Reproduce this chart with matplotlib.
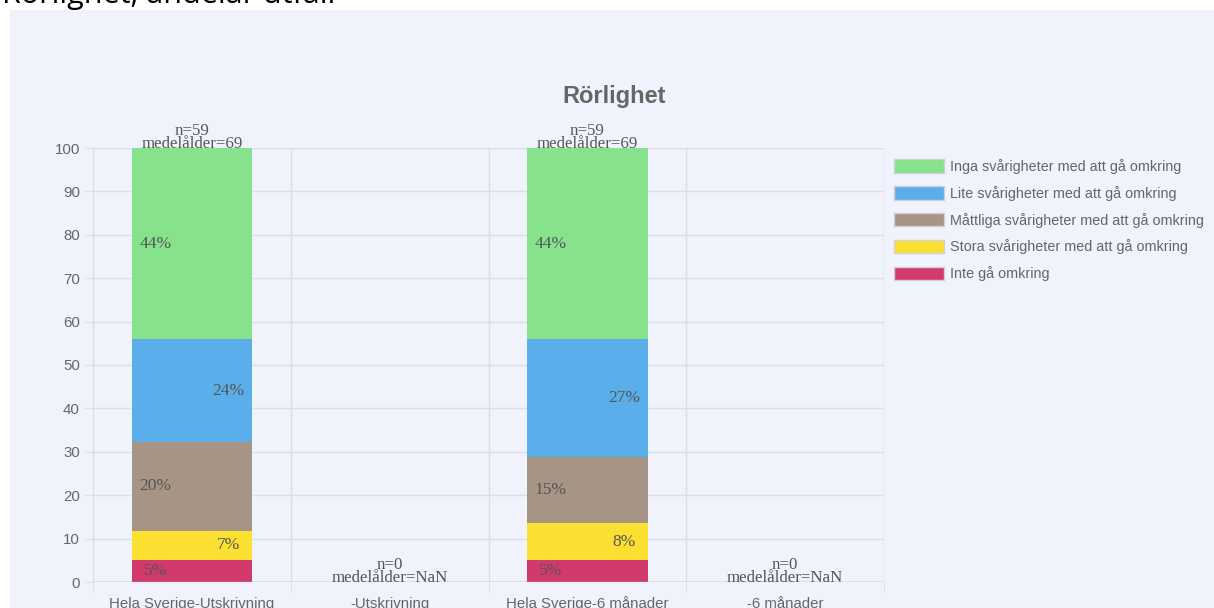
import matplotlib
matplotlib.use("Agg")
import matplotlib.pyplot as plt
from matplotlib.patches import Patch, Rectangle
import numpy as np

# ---------------- data ----------------
categories = ["Hela Sverige-Utskrivning", "-Utskrivning", "Hela Sverige-6 månader", "-6 månader"]
series_names = [
    "Inte gå omkring",
    "Stora svårigheter med att gå omkring",
    "Måttliga svårigheter med att gå omkring",
    "Lite svårigheter med att gå omkring",
    "Inga svårigheter med att gå omkring",
]
inte = [5.08, 0, 5.08, 0]
stora = [6.78, 0, 8.47, 0]
mattliga = [20.34, 0, 15.25, 0]
lite = [23.73, 0, 27.12, 0]
inga = [44.07, 0, 44.07, 0]
n_values = [59, 0, 59, 0]
mean_age = ["69", "NaN", "69", "NaN"]
series_colors = ["#d33a6c", "#fbe032", "#a69585", "#5aaeea", "#86e38c"]
y_ticks = [0, 10, 20, 30, 40, 50, 60, 70, 80, 90, 100]

series_values = [inte, stora, mattliga, lite, inga]

# ---------------- figure ----------------
W, H = 1214, 608
fig = plt.figure(figsize=(W / 100, H / 100), dpi=100)
fig.patch.set_facecolor("white")
bg = "#f0f3fc"
fig.patches.append(Rectangle((10 / W, 0), 1 - 10 / W, (H - 10) / H,
                             transform=fig.transFigure, facecolor=bg,
                             edgecolor="none", zorder=-5))

# cut-off page heading at the top
fig.text(2 / W, 1 - 3 / H, "Rörlighet, andelar utfall", fontsize=22,
         family="Open Sans", color="black", ha="left", va="baseline", zorder=-4)

left, right = 93 / W, 884 / W
bottom, top = (H - 582) / H, (H - 148) / H
ax = fig.add_axes([left, bottom, right - left, top - bottom])
ax.set_facecolor("none")
ax.set_zorder(2)

x = np.arange(len(categories))
bar_w = 0.61
grid_c = "#dcdde6"
text_c = "#666666"
lbl_c = "#555555"
val_fs = 12.5
ann_fs = 12.2

bottoms = np.zeros(len(categories))
for i, (vals, col) in enumerate(zip(series_values, series_colors)):
    vals = np.array(vals, dtype=float)
    ax.bar(x, vals, bar_w, bottom=bottoms, color=col, edgecolor="none", zorder=3)
    side = -0.185 if i % 2 == 0 else 0.185
    for j, v in enumerate(vals):
        if v > 0:
            ax.text(x[j] + side, bottoms[j] + v / 2, f"{round(v)}%",
                    ha="center", va="center", fontsize=val_fs,
                    family="Liberation Serif", color=lbl_c, zorder=5)
    bottoms = bottoms + vals

for j in range(len(categories)):
    tot = bottoms[j]
    ax.annotate(f"medelålder={mean_age[j]}", (x[j], tot), xytext=(0, 0),
                textcoords="offset points", ha="center", va="baseline",
                fontsize=ann_fs, family="Liberation Serif", color=lbl_c, zorder=6,
                annotation_clip=False)
    ax.annotate(f"n={n_values[j]}", (x[j], tot), xytext=(0, 9.4),
                textcoords="offset points", ha="center", va="baseline",
                fontsize=ann_fs, family="Liberation Serif", color=lbl_c, zorder=6,
                annotation_clip=False)

ax.set_xlim(-0.5, len(categories) - 0.5)
ax.set_ylim(0, 100)
ax.set_yticks(y_ticks)
ax.set_yticklabels([str(t) for t in y_ticks])
ax.set_xticks(x)
ax.set_xticklabels(categories)
ax.set_xticks(np.arange(-0.5, len(categories), 1.0), minor=True)

for s in ax.spines.values():
    s.set_visible(False)

for t in y_ticks:
    ax.axhline(t, color=grid_c, lw=1, zorder=1)
for b in np.arange(-0.5, len(categories), 1.0):
    ax.axvline(b, color=grid_c, lw=1, zorder=1)
ax.axhline(0, color="#a8a8b0", lw=1, zorder=4)

ax.tick_params(axis="y", length=5.8, color=grid_c, pad=3.6, labelsize=10.8,
               labelcolor=text_c)
ax.tick_params(axis="x", which="major", length=0, pad=18.5, labelsize=10.8,
               labelcolor=text_c)
ax.tick_params(axis="x", which="minor", length=7.2, color=grid_c)
for lab in ax.get_xticklabels() + ax.get_yticklabels():
    lab.set_family("Liberation Sans")
for lab in ax.get_xticklabels():
    lab.set_va("baseline")

# title
fig.text(614 / W, 1 - 97 / H, "Rörlighet", ha="center", va="center",
         fontsize=17, fontweight="bold", family="Liberation Sans", color=text_c)

# legend
handles = [Patch(facecolor=c, edgecolor="#d0d0d8", lw=1)
           for c in series_colors[::-1]]
leg = fig.legend(handles, series_names[::-1], loc="upper left",
                 bbox_to_anchor=(894 / W, 1 - 159 / H), frameon=False,
                 handlelength=3.45, handleheight=1.05, labelspacing=0.82,
                 handletextpad=0.45, borderpad=0, borderaxespad=0,
                 prop={"family": "Liberation Sans", "size": 10.4})
for t in leg.get_texts():
    t.set_color(text_c)

fig.savefig("out.png", dpi=100, facecolor=fig.get_facecolor())
